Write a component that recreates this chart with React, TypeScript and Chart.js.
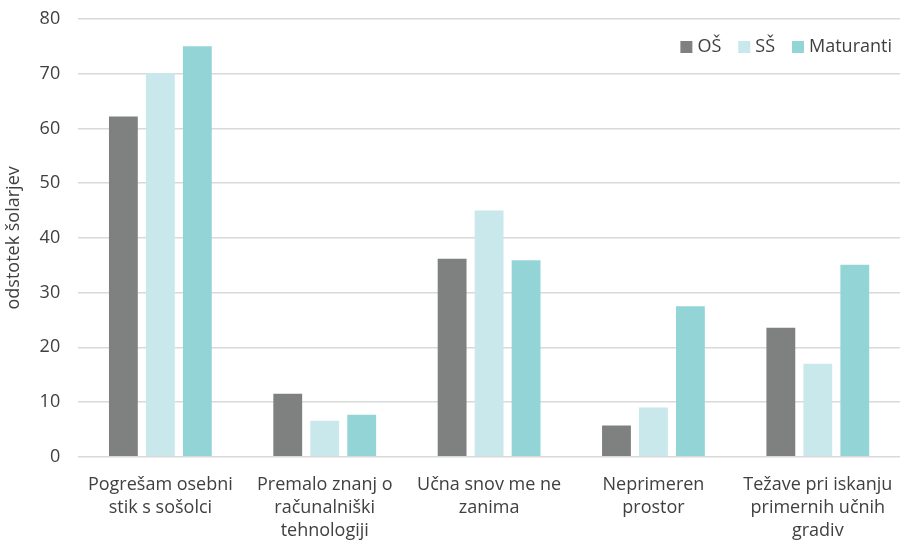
import React, { useEffect, useRef } from "react";
import { Chart, registerables } from "chart.js";

Chart.register(...registerables);

const categories: string[][] = [
  ["Pogrešam osebni", "stik s sošolci"],
  ["Premalo znanj o", "računalniški", "tehnologiji"],
  ["Učna snov me ne", "zanima"],
  ["Neprimeren", "prostor"],
  ["Težave pri iskanju", "primernih učnih", "gradiv"],
];
const seriesNames = ["OŠ", "SŠ", "Maturanti"];
const osValues = [62.2, 11.5, 36.2, 5.7, 23.6];
const ssValues = [70.1, 6.6, 45.0, 9.0, 17.0];
const matValues = [75.0, 7.7, 35.9, 27.5, 35.1];
const colors = ["#7f8181", "#c8e8ec", "#93d5d7"];
const yTicks = { min: 0, max: 80, step: 10 };
const yTitle = "odstotek šolarjev";

const FONT = "'Open Sans', sans-serif";

const legendPlugin = {
  id: "insideLegend",
  afterDraw(chart: any) {
    const { ctx, chartArea } = chart;
    ctx.save();
    ctx.font = `18px ${FONT}`;
    ctx.textBaseline = "middle";
    const box = 12;
    const gapBoxText = 5;
    const gapItems = 17;
    const items = chart.data.datasets.map((ds: any) => ({
      label: ds.label,
      color: ds.backgroundColor,
      w: ctx.measureText(ds.label).width,
    }));
    let total = 0;
    items.forEach((it: any, i: number) => {
      total += box + gapBoxText + it.w + (i > 0 ? gapItems : 0);
    });
    let x = chartArea.right - 8 - total;
    const y = chartArea.top + 28;
    items.forEach((it: any) => {
      ctx.fillStyle = it.color;
      ctx.fillRect(x, y - box / 2, box, box);
      x += box + gapBoxText;
      ctx.fillStyle = "#404040";
      ctx.fillText(it.label, x, y);
      x += it.w + gapItems;
    });
    ctx.restore();
  },
};

export default function App() {
  const ref = useRef<HTMLCanvasElement | null>(null);
  useEffect(() => {
    document.body.style.margin = "0";
    if (!ref.current) return;
    const chart = new Chart(ref.current, {
      type: "bar",
      data: {
        labels: categories,
        datasets: [osValues, ssValues, matValues].map((d, i) => ({
          label: seriesNames[i],
          data: d,
          backgroundColor: colors[i],
          borderWidth: 0,
          categoryPercentage: 0.675,
          barPercentage: 0.78,
        })),
      },
      options: {
        animation: false,
        responsive: false,
        maintainAspectRatio: false,
        layout: { padding: { top: 19, right: 1, left: 3, bottom: 3 } },
        plugins: {
          tooltip: { enabled: false },
          legend: { display: false },
        },
        scales: {
          x: {
            grid: { display: false, drawTicks: true, tickLength: 16 },
            border: { display: false },
            ticks: {
              color: "#404040",
              font: { family: FONT, size: 18, lineHeight: 1.3 },
              padding: 0,
              maxRotation: 0,
              autoSkip: false,
            },
          },
          y: {
            min: yTicks.min,
            max: yTicks.max,
            grid: {
              color: "#d9d9d9",
              lineWidth: 1.5,
              drawTicks: true,
              tickLength: 18,
              tickColor: "rgba(0,0,0,0)",
            },
            border: { display: false },
            ticks: {
              stepSize: yTicks.step,
              color: "#404040",
              font: { family: FONT, size: 18 },
              padding: 0,
            },
            title: {
              display: true,
              text: yTitle,
              color: "#404040",
              font: { family: FONT, size: 18 },
              padding: { top: 0, bottom: 15 },
            },
          },
        },
      },
      plugins: [legendPlugin],
    });
    return () => chart.destroy();
  }, []);
  return (
    <div style={{ width: 901, height: 546 }}>
      <canvas ref={ref} width={901} height={546} style={{ display: "block" }} />
    </div>
  );
}
